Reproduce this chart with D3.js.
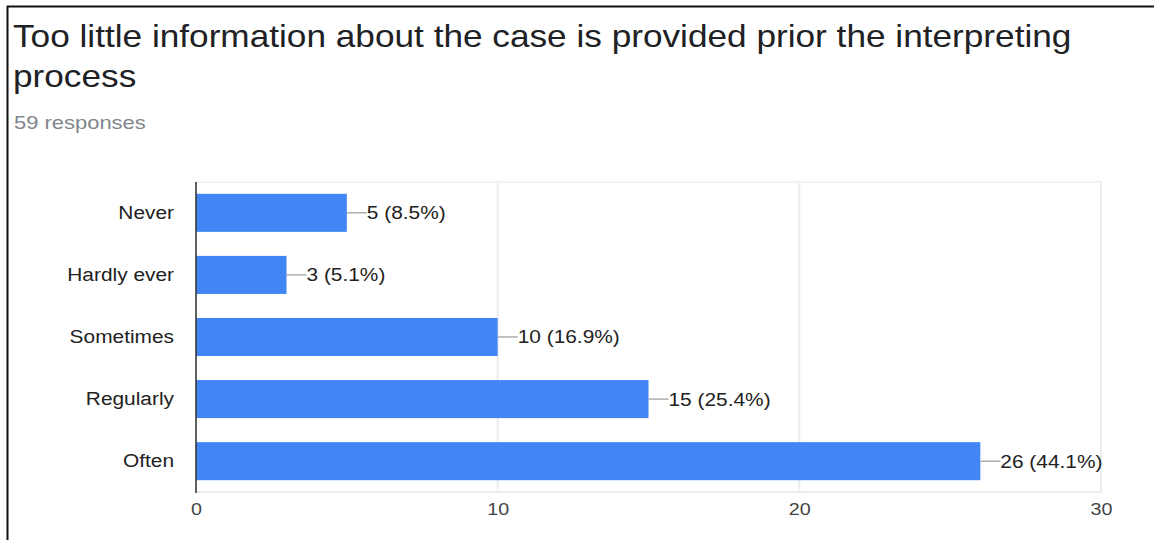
<!DOCTYPE html>
<html>
<head>
<meta charset="utf-8">
<script src="https://cdn.jsdelivr.net/npm/d3@7"></script>
<style>
  html, body { margin: 0; padding: 0; background: #fff; }
  svg { display: block; }
</style>
</head>
<body>
<svg id="chart" width="1154" height="540"></svg>
<script>
// Survey answers and counts
const categories = ["Never", "Hardly ever", "Sometimes", "Regularly", "Often"];
const counts = [5, 3, 10, 15, 26];
const percents = ["8.5%", "5.1%", "16.9%", "25.4%", "44.1%"];
const xTicks = [0, 10, 20, 30];
const titleLines = ["Too little information about the case is provided prior the interpreting", "process"];
const subtitle = "59 responses";

const svg = d3.select("#chart");
const W = 1154, H = 540;
const font = "'Liberation Sans', Arial, Helvetica, sans-serif";
const wide = 1.16; // horizontal text stretch

// Frame lines (top and left)
svg.append("line").attr("x1", 7).attr("x2", W).attr("y1", 6.5).attr("y2", 6.5)
  .attr("stroke", "#111").attr("stroke-width", 2);
svg.append("line").attr("x1", 7.5).attr("x2", 7.5).attr("y1", 6).attr("y2", H)
  .attr("stroke", "#111").attr("stroke-width", 2);

// Title, stretched so the first line spans the header width
const titleG = svg.append("g");
const title = titleG.append("text")
  .attr("font-family", font).attr("font-size", 31).attr("fill", "#202124");
title.selectAll("tspan").data(titleLines).join("tspan")
  .attr("x", 0).attr("y", (d, i) => i * 40).text(d => d);
const firstLen = title.select("tspan").node().getComputedTextLength();
const tk = 1059 / firstLen;
titleG.attr("transform", `translate(13,47) scale(${tk},1)`);

svg.append("text")
  .attr("transform", `translate(14,129) scale(${wide + 0.06},1)`)
  .attr("font-family", font).attr("font-size", 18).attr("fill", "#80868b")
  .text(subtitle);

// Plot area
const plot = { left: 196, right: 1101, top: 182, bottom: 492 };

const x = d3.scaleLinear().domain([0, 30]).range([plot.left, plot.right]);
const y = d3.scaleBand().domain(categories).range([plot.top, plot.bottom])
  .paddingInner(0.387).paddingOuter(0.19);

// Gridlines
const grid = svg.append("g");
grid.selectAll("line.v").data(xTicks).join("line")
  .attr("class", "v")
  .attr("x1", d => x(d)).attr("x2", d => x(d))
  .attr("y1", plot.top).attr("y2", plot.bottom)
  .attr("stroke", "#ececec").attr("stroke-width", 2);
grid.append("line")
  .attr("x1", plot.left).attr("x2", plot.right + 1)
  .attr("y1", plot.top).attr("y2", plot.top)
  .attr("stroke", "#f2f2f2").attr("stroke-width", 2);
grid.append("line")
  .attr("x1", plot.left).attr("x2", plot.right + 1)
  .attr("y1", plot.bottom).attr("y2", plot.bottom)
  .attr("stroke", "#ececec").attr("stroke-width", 2);

// Bars
const data = categories.map((c, i) => ({ c, v: counts[i], p: percents[i] }));
svg.append("g").selectAll("rect").data(data).join("rect")
  .attr("x", x(0)).attr("y", d => y(d.c))
  .attr("width", d => x(d.v) - x(0)).attr("height", y.bandwidth())
  .attr("fill", "#4285f4");

// Baseline axis
svg.append("line")
  .attr("x1", x(0)).attr("x2", x(0)).attr("y1", plot.top).attr("y2", plot.bottom + 1)
  .attr("stroke", "#333").attr("stroke-width", 1.5);

// Value labels with leader lines
const lbl = svg.append("g").selectAll("g").data(data).join("g")
  .attr("transform", d => `translate(${x(d.v)},${y(d.c) + y.bandwidth() / 2})`);
lbl.append("line").attr("x1", 0).attr("x2", 20).attr("y1", 0).attr("y2", 0)
  .attr("stroke", "#999").attr("stroke-width", 1.2);
lbl.append("text")
  .attr("transform", `translate(20,0) scale(${wide},1)`)
  .attr("dy", "0.36em")
  .attr("font-family", font).attr("font-size", 18).attr("fill", "#222")
  .text(d => `${d.v} (${d.p})`);

// Category labels
const yAxis = d3.axisLeft(y).tickSize(0).tickPadding(0);
const ya = svg.append("g").attr("transform", `translate(${plot.left},0)`).call(yAxis);
ya.select(".domain").remove();
ya.selectAll("text")
  .attr("x", 0)
  .attr("transform", `translate(-22,0) scale(${wide},1)`)
  .attr("font-family", font).attr("font-size", 18).attr("fill", "#222");

// X axis tick labels
const xAxis = d3.axisBottom(x).tickValues(xTicks).tickSize(0).tickPadding(11);
const xa = svg.append("g").attr("transform", `translate(0,${plot.bottom})`).call(xAxis);
xa.select(".domain").remove();
xa.selectAll("text")
  .attr("transform", `scale(${wide},1)`)
  .attr("font-family", font).attr("font-size", 17).attr("fill", "#444");
</script>
</body>
</html>
